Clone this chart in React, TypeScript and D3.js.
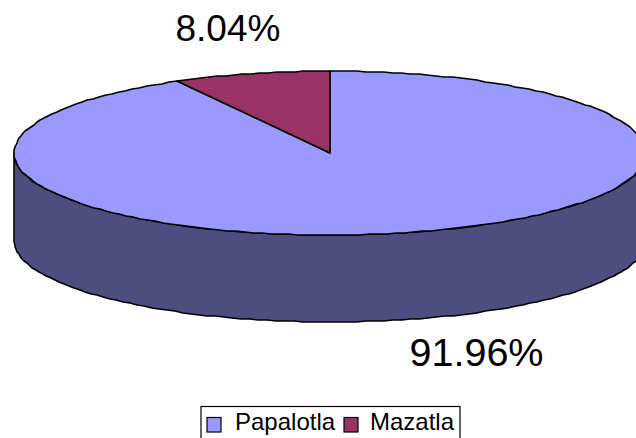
import React from "react";
import * as d3 from "d3";

const categories = ["Papalotla", "Mazatla"];
const values = [91.96, 8.04];
const labels = ["91.96%", "8.04%"];
const colors = ["#9999FF", "#993366"];
const sideColor = "#4D4D80";

const W = 636, H = 438;
const cx = 330, cy = 153, rx = 316, ry = 82, depth = 87;
const STEPS = 220;

const rotate = d3.scaleLinear().domain([0, 2 * Math.PI]).range([0, 2 * Math.PI]);
const px = (a: number) => Math.round(cx + rx * Math.sin(rotate(a)));
const py = (a: number) => Math.round(cy - ry * Math.cos(rotate(a)));

function arcPoints(a0: number, a1: number): [number, number][] {
  const n = Math.max(1, Math.ceil((Math.abs(a1 - a0) / (2 * Math.PI)) * STEPS));
  return d3.range(n + 1).map((i) => {
    const a = a0 + ((a1 - a0) * i) / n;
    return [px(a), py(a)] as [number, number];
  });
}

const pie = d3.pie<number>().sort(null).value((d) => d);
const arcs = pie(values);
const line = d3.line();

function slicePath(a0: number, a1: number) {
  return line([[cx, cy], ...arcPoints(a0, a1)]) + "Z";
}

function sidePath() {
  const top = arcPoints(Math.PI / 2, (3 * Math.PI) / 2);
  const bottom = top.map(([x, y]) => [x, y + depth] as [number, number]).reverse();
  return line([...top, ...bottom]) + "Z";
}

const font = "'Liberation Sans', Arial, sans-serif";
const legendX = [207, 344];
const legendTextX = [235, 370];

export default function App() {
  return (
    <svg
      width={W}
      height={H}
      viewBox={`0 0 ${W} ${H}`}
      style={{ position: "absolute", left: 0, top: 0, background: "#fff" }}
      fontFamily={font}
    >
      <path d={sidePath()} fill={sideColor} stroke="#000" strokeWidth={1.6} strokeLinejoin="round" />
      {arcs.map((a, i) => (
        <path
          key={categories[i]}
          d={slicePath(a.startAngle, a.endAngle)}
          fill={colors[i]}
          stroke="#000"
          strokeWidth={1.6}
          strokeLinejoin="round"
        />
      ))}
      <text x={409.5} y={366} fontSize={39.5} fill="#000">{labels[0]}</text>
      <text x={175.5} y={41} fontSize={37} fill="#000">{labels[1]}</text>
      <rect x={201} y={406.5} width={259} height={40} fill="#fff" stroke="#000" strokeWidth={1.2} />
      {categories.map((c, i) => (
        <g key={c}>
          <rect x={legendX[i]} y={417.5} width={14} height={14.5} fill={colors[i]} stroke="#000" strokeWidth={1.2} />
          <text x={legendTextX[i]} y={430} fontSize={24} fill="#000">{c}</text>
        </g>
      ))}
    </svg>
  );
}
